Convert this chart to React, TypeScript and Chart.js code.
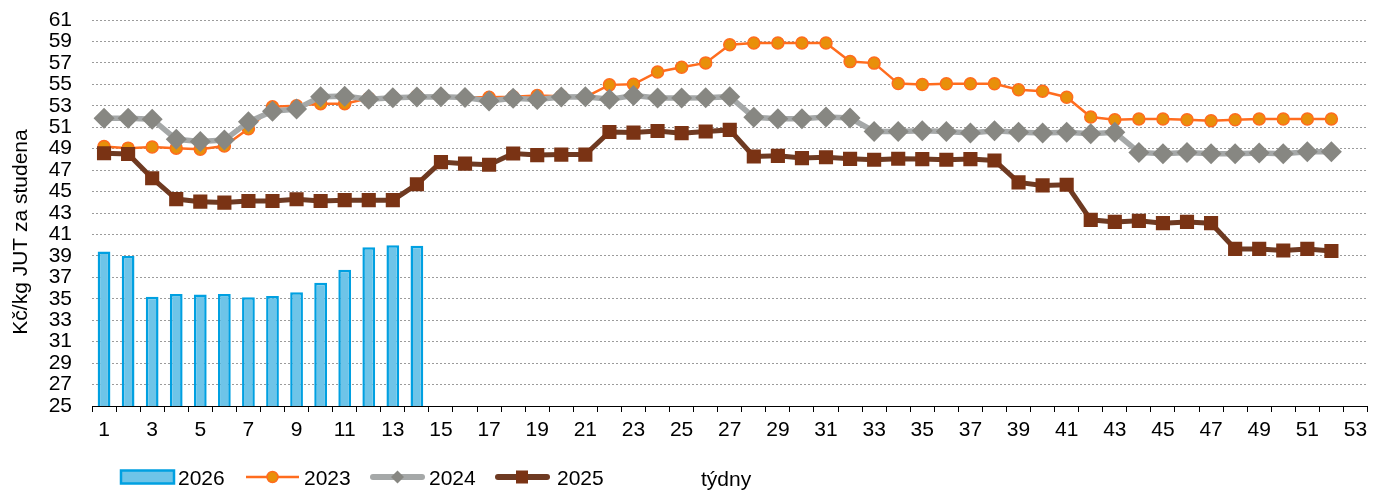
import React, { useEffect, useRef } from 'react';
import { Chart, registerables } from 'chart.js';

Chart.register(...registerables);

const FONT = '"Liberation Sans", Arial, sans-serif';

const weeks = ['1', '2', '3', '4', '5', '6', '7', '8', '9', '10', '11', '12', '13', '14', '15', '16', '17', '18', '19', '20', '21', '22', '23', '24', '25', '26', '27', '28', '29', '30', '31', '32', '33', '34', '35', '36', '37', '38', '39', '40', '41', '42', '43', '44', '45', '46', '47', '48', '49', '50', '51', '52', '53'];

const values2026 = [39.4, 39.0, 35.2, 35.45, 35.4, 35.45, 35.15, 35.25, 35.6, 36.5, 37.7, 39.8, 40.0, 39.95];

const values2023 = [
  49.2, 49.05, 49.15, 49.05, 48.95, 49.25, 50.85, 52.9, 53.0, 53.2,
  53.2, 53.7, 53.8, 53.9, 53.85, 53.8, 53.8, 53.85, 53.95, 53.9,
  53.8, 54.95, 55.0, 56.15, 56.6, 57.0, 58.7, 58.85, 58.85, 58.85,
  58.85, 57.12, 56.98, 55.07, 54.98, 55.05, 55.05, 55.05, 54.5, 54.35,
  53.8, 51.95, 51.7, 51.77, 51.77, 51.7, 51.6, 51.7, 51.77, 51.77,
  51.77, 51.77,
];

const values2024 = [
  51.83, 51.83, 51.75, 49.87, 49.66, 49.8, 51.5, 52.5, 52.7, 53.85,
  53.9, 53.62, 53.75, 53.82, 53.85, 53.78, 53.45, 53.7, 53.58, 53.82,
  53.85, 53.6, 53.95, 53.72, 53.72, 53.75, 53.85, 51.93, 51.78, 51.8,
  51.95, 51.86, 50.6, 50.6, 50.68, 50.6, 50.46, 50.68, 50.52, 50.46,
  50.52, 50.4, 50.52, 48.65, 48.53, 48.65, 48.53, 48.53, 48.59, 48.53,
  48.72, 48.72,
];

const values2025 = [
  48.57, 48.5, 46.24, 44.3, 44.06, 43.97, 44.12, 44.12, 44.28, 44.12,
  44.2, 44.2, 44.2, 45.68, 47.75, 47.6, 47.5, 48.55, 48.4, 48.45,
  48.45, 50.55, 50.5, 50.65, 50.45, 50.6, 50.75, 48.27, 48.33, 48.12,
  48.2, 48.05, 47.97, 48.06, 48.03, 47.97, 48.03, 47.9, 45.85, 45.57,
  45.63, 42.36, 42.17, 42.27, 42.05, 42.17, 42.05, 39.65, 39.65, 39.5,
  39.65, 39.46,
];

const yTitle = 'Kč/kg JUT za studena';
const xTitle = 'týdny';

const C = {
  barFill: '#6EC4E8',
  barBorder: '#00A0E1',
  orangeLine: '#FF6C1E',
  orangePoint: '#E8900A',
  grayLine: '#A5A8A8',
  grayPoint: '#878782',
  brownLine: '#6E3A22',
  brownPoint: '#7A3314',
};

const decorPlugin = {
  id: 'decor',
  afterDraw(chart: any) {
    const ctx = chart.ctx as CanvasRenderingContext2D;
    const area = chart.chartArea;
    ctx.save();
    ctx.fillStyle = '#000';
    ctx.font = `21px ${FONT}`;

    // y axis title
    ctx.save();
    ctx.translate(27, (area.top + area.bottom) / 2 + 19);
    ctx.rotate(-Math.PI / 2);
    ctx.textAlign = 'center';
    ctx.textBaseline = 'alphabetic';
    ctx.fillText(yTitle, 0, 0);
    ctx.restore();

    const cy = 477;
    const base = 484.5;
    ctx.textAlign = 'left';
    ctx.textBaseline = 'alphabetic';

    // 2026 bar item
    ctx.fillStyle = C.barFill;
    ctx.fillRect(121, 470.5, 53, 13);
    ctx.strokeStyle = C.barBorder;
    ctx.lineWidth = 2.5;
    ctx.strokeRect(121, 470.5, 53, 13);
    ctx.fillStyle = '#000';
    ctx.fillText('2026', 178, base);

    // 2023
    ctx.strokeStyle = C.orangeLine;
    ctx.lineWidth = 2.5;
    ctx.beginPath();
    ctx.moveTo(246, cy);
    ctx.lineTo(299, cy);
    ctx.stroke();
    ctx.beginPath();
    ctx.arc(272.5, cy, 5.5, 0, Math.PI * 2);
    ctx.fillStyle = C.orangePoint;
    ctx.fill();
    ctx.lineWidth = 1.5;
    ctx.stroke();
    ctx.fillStyle = '#000';
    ctx.fillText('2023', 304, base);

    // 2024
    ctx.strokeStyle = C.grayLine;
    ctx.lineWidth = 6;
    ctx.lineCap = 'round';
    ctx.beginPath();
    ctx.moveTo(373, cy);
    ctx.lineTo(422, cy);
    ctx.stroke();
    ctx.fillStyle = C.grayPoint;
    ctx.beginPath();
    ctx.moveTo(397.5 - 6.5, cy);
    ctx.lineTo(397.5, cy - 6.5);
    ctx.lineTo(397.5 + 6.5, cy);
    ctx.lineTo(397.5, cy + 6.5);
    ctx.closePath();
    ctx.fill();
    ctx.fillStyle = '#000';
    ctx.fillText('2024', 429, base);

    // 2025
    ctx.strokeStyle = C.brownLine;
    ctx.lineWidth = 6;
    ctx.beginPath();
    ctx.moveTo(498, cy);
    ctx.lineTo(547, cy);
    ctx.stroke();
    ctx.fillStyle = C.brownPoint;
    ctx.fillRect(516, cy - 6.5, 12, 13);
    ctx.fillStyle = '#000';
    ctx.fillText('2025', 557, base);

    // x title
    ctx.fillText(xTitle, 701, 486);
    ctx.restore();
  },
};

export default function App() {
  const ref = useRef<HTMLCanvasElement | null>(null);

  useEffect(() => {
    if (!ref.current) return;
    const chart = new Chart(ref.current, {
      type: 'bar',
      data: {
        labels: weeks,
        datasets: [
          {
            type: 'line',
            label: '2025',
            data: values2025,
            borderColor: C.brownLine,
            borderWidth: 5,
            backgroundColor: C.brownPoint,
            pointStyle: 'rect',
            pointRadius: 10,
            pointBackgroundColor: C.brownPoint,
            pointBorderColor: C.brownPoint,
            pointBorderWidth: 0,
            tension: 0,
            order: 1,
          },
          {
            type: 'line',
            label: '2024',
            data: values2024,
            borderColor: C.grayLine,
            borderWidth: 5.5,
            backgroundColor: C.grayPoint,
            pointStyle: 'rectRot',
            pointRadius: 10.5,
            pointBackgroundColor: C.grayPoint,
            pointBorderColor: C.grayPoint,
            pointBorderWidth: 0,
            tension: 0,
            order: 2,
          },
          {
            type: 'line',
            label: '2023',
            data: values2023,
            borderColor: C.orangeLine,
            borderWidth: 2.5,
            backgroundColor: C.orangePoint,
            pointStyle: 'circle',
            pointRadius: 6,
            pointBackgroundColor: C.orangePoint,
            pointBorderColor: C.orangeLine,
            pointBorderWidth: 1.5,
            tension: 0,
            order: 3,
          },
          {
            type: 'bar',
            label: '2026',
            data: values2026,
            backgroundColor: C.barFill,
            borderColor: C.barBorder,
            borderWidth: 2.5,
            barPercentage: 0.53,
            categoryPercentage: 1,
            order: 4,
          },
        ],
      },
      options: {
        animation: false,
        responsive: true,
        maintainAspectRatio: false,
        layout: { padding: { top: 20, right: 6, left: 0, bottom: 0 } },
        plugins: {
          legend: { display: false },
          tooltip: { enabled: false },
        },
        scales: {
          x: {
            type: 'category',
            offset: true,
            grid: {
              display: true,
              drawOnChartArea: false,
              drawTicks: true,
              tickLength: 6,
              color: '#000',
              offset: true,
              lineWidth: 1,
            },
            border: { display: true, color: '#000', width: 1 },
            ticks: {
              autoSkip: false,
              maxRotation: 0,
              minRotation: 0,
              padding: 6,
              color: '#000',
              font: { size: 21, family: FONT },
              callback: (_v: any, i: number) => (i % 2 === 0 ? weeks[i] : ''),
            },
            afterFit: (s: any) => {
              s.height = 84;
            },
          },
          y: {
            min: 25,
            max: 61,
            ticks: {
              stepSize: 2,
              autoSkip: false,
              padding: 20,
              color: '#000',
              font: { size: 21, family: FONT },
            },
            grid: { color: '#9b9b9b', drawTicks: false, lineWidth: 1 },
            border: { display: false, dash: [2, 2] },
            afterFit: (s: any) => {
              s.width = 92;
              s.paddingTop = 0;
              s.paddingBottom = 0;
            },
          },
        },
      },
      plugins: [decorPlugin],
    });
    return () => chart.destroy();
  }, []);

  return (
    <div style={{ position: 'absolute', left: 0, top: 0, width: 1378, height: 490 }}>
      <canvas ref={ref} />
    </div>
  );
}
